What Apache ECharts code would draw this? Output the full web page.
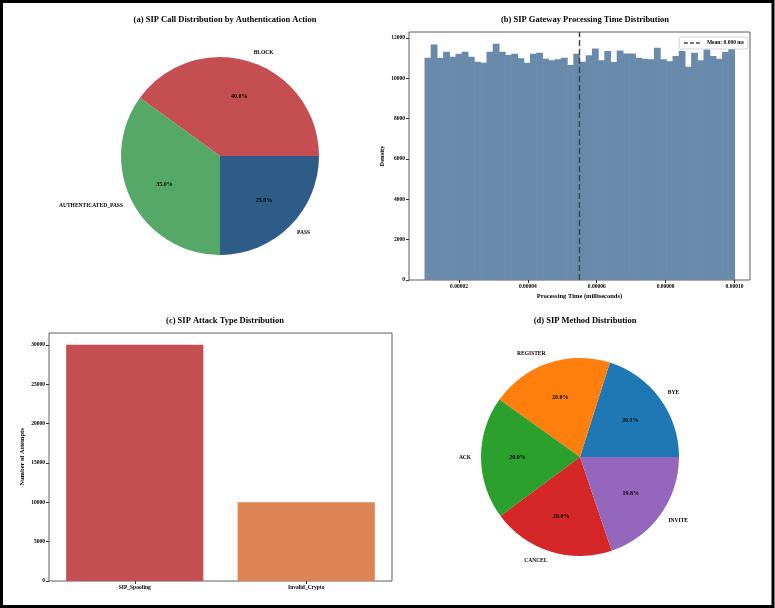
<!DOCTYPE html>
<html>
<head>
<meta charset="utf-8">
<script src="https://cdn.jsdelivr.net/npm/echarts@6/dist/echarts.min.js"></script>
<style>
  html, body { margin: 0; padding: 0; background: #fff; }
  #main { width: 775px; height: 608px; }
</style>
</head>
<body>
<div id="main"></div>
<script>
// (a) authentication action shares (%)
const authLabels = ["BLOCK", "AUTHENTICATED_PASS", "PASS"];
const authShares = [40.0, 35.0, 25.0];
const authColors = ["#c44e52", "#55a868", "#2f5b88"];

// (b) processing time histogram, 50 bins between histStart and histEnd (ms)
const histStart = 0.00001;
const histEnd = 0.0001;
const histDensity = [
  11010, 11670, 11010, 11310, 11060, 11210, 11310, 11060, 10810, 10760,
  11310, 11700, 11310, 11140, 11210, 10980, 10760, 11210, 11260, 10960,
  10880, 10930, 11010, 10650, 11210, 10810, 11130, 11470, 10880, 11340,
  10800, 11370, 11220, 11220, 11010, 10960, 10930, 11510, 10930, 10840,
  11090, 11340, 10560, 11260, 10880, 11420, 11090, 10960, 11290, 11460,
];
const meanTime = 0.000055;
const timeTicks = [0.00002, 0.00004, 0.00006, 0.00008, 0.0001];
const densityTicks = [0, 2000, 4000, 6000, 8000, 10000, 12000];

// (c) attack types
const attackTypes = ["SIP_Spoofing", "Invalid_Crypto"];
const attackCounts = [30000, 10000];
const attackColors = ["#c44e52", "#dd8452"];
const attackTicks = [0, 5000, 10000, 15000, 20000, 25000, 30000];

// (d) SIP methods shares (%)
const methodLabels = ["BYE", "REGISTER", "ACK", "CANCEL", "INVITE"];
const methodShares = [20.1, 20.0, 20.0, 20.0, 19.8];
const methodColors = ["#1f77b4", "#ff7f0e", "#2ca02c", "#d62728", "#9467bd"];

const FONT = "Liberation Serif";
const tickText = { fontFamily: FONT, fontSize: 5.5, fontWeight: "bold", color: "#000" };
const nameText = { fontFamily: FONT, fontSize: 6.5, fontWeight: "bold", color: "#000" };
const titleText = { fontFamily: FONT, fontSize: 8.5, fontWeight: "bold", color: "#000" };
const meanLine = { color: "#444", width: 1.5, type: [6, 3] };

const chart = echarts.init(document.getElementById("main"), null, { renderer: "canvas" });

function pieSeries(center, labels, values, colors) {
  const r = 99;
  return [
    {
      type: "pie",
      center: center,
      radius: r,
      startAngle: 0,
      clockwise: false,
      avoidLabelOverlap: false,
      silent: true,
      emphasis: { disabled: true },
      data: labels.map((n, i) => ({ name: n, value: values[i], itemStyle: { color: colors[i] } })),
      label: {
        position: "outside",
        formatter: "{b}",
        distanceToLabelLine: 0,
        ...tickText,
      },
      labelLine: { show: false, length: r * 0.1, length2: 0 },
    },
    {
      // percentages sit at 0.6 r: midpoint of a 1.2 r transparent ring
      type: "pie",
      center: center,
      radius: [0, r * 1.2],
      startAngle: 0,
      clockwise: false,
      silent: true,
      z: 5,
      emphasis: { disabled: true },
      data: labels.map((n, i) => ({ name: n, value: values[i], itemStyle: { color: "rgba(0,0,0,0)" } })),
      label: {
        position: "inside",
        formatter: (p) => p.value.toFixed(1) + "%",
        fontFamily: FONT,
        fontSize: 6,
        fontWeight: "bold",
        color: "#000",
      },
      labelLine: { show: false },
    },
  ];
}

const binW = (histEnd - histStart) / histDensity.length;
const histData = histDensity.map((d, i) => [histStart + i * binW, histStart + (i + 1) * binW, d]);
const histYMax = Math.max(...histDensity) * 1.05;
const xPad = (histEnd - histStart) * 0.05;
const meanName = "Mean: " + meanTime.toFixed(3) + " ms";
const plain = (v) => String(v);

const option = {
  animation: false,
  backgroundColor: "#fff",
  graphic: [
    {
      type: "rect",
      silent: true,
      shape: { x: 1.5, y: 1.5, width: 771.5, height: 605 },
      style: { fill: "none", stroke: "#000", lineWidth: 3 },
    },
  ],
  title: [
    { text: "(a) SIP Call Distribution by Authentication Action", left: 220, top: 10, textAlign: "center", textStyle: titleText },
    { text: "(b) SIP Gateway Processing Time Distribution", left: 580, top: 10, textAlign: "center", textStyle: titleText },
    { text: "(c) SIP Attack Type Distribution", left: 220, top: 311, textAlign: "center", textStyle: titleText },
    { text: "(d) SIP Method Distribution", left: 580, top: 311, textAlign: "center", textStyle: titleText },
  ],
  legend: {
    data: [meanName],
    right: 27,
    top: 37,
    itemWidth: 18,
    itemHeight: 6,
    padding: [3, 4],
    borderColor: "#ccc",
    borderWidth: 0.8,
    borderRadius: 2,
    backgroundColor: "#fff",
    itemStyle: { opacity: 0 },
    lineStyle: { color: "#444", width: 1.5, type: [4, 2] },
    textStyle: { fontFamily: FONT, fontSize: 5.5, fontWeight: "bold", color: "#000" },
  },
  grid: [
    { left: 409, right: 25, top: 32, bottom: 328, show: true, borderColor: "#333", borderWidth: 0.8 },
    { left: 49, right: 383, top: 333, bottom: 27, show: true, borderColor: "#333", borderWidth: 0.8 },
  ],
  xAxis: [
    {
      type: "value",
      gridIndex: 0,
      min: histStart - xPad,
      max: histEnd + xPad,
      name: "Processing Time (milliseconds)",
      nameLocation: "middle",
      nameGap: 13,
      nameTextStyle: nameText,
      axisLine: { show: false },
      splitLine: { show: false },
      axisTick: { show: true, length: 3, customValues: timeTicks, lineStyle: { color: "#333" } },
      axisLabel: { customValues: timeTicks, formatter: (v) => v.toFixed(5), margin: 4, ...tickText },
    },
    {
      type: "category",
      gridIndex: 1,
      data: attackTypes,
      axisLine: { show: false },
      axisTick: { show: true, alignWithLabel: true, length: 3, lineStyle: { color: "#333" } },
      axisLabel: { margin: 4, ...tickText },
    },
  ],
  yAxis: [
    {
      type: "value",
      gridIndex: 0,
      min: 0,
      max: histYMax,
      name: "Density",
      nameLocation: "middle",
      nameGap: 23,
      nameTextStyle: nameText,
      axisLine: { show: false },
      splitLine: { show: false },
      axisTick: { show: true, length: 3, customValues: densityTicks, lineStyle: { color: "#333" } },
      axisLabel: { customValues: densityTicks, formatter: plain, margin: 4, ...tickText },
    },
    {
      type: "value",
      gridIndex: 1,
      min: 0,
      max: Math.max(...attackCounts) * 1.05,
      name: "Number of Attempts",
      nameLocation: "middle",
      nameGap: 23,
      nameTextStyle: nameText,
      axisLine: { show: false },
      splitLine: { show: false },
      axisTick: { show: true, length: 3, customValues: attackTicks, lineStyle: { color: "#333" } },
      axisLabel: { customValues: attackTicks, formatter: plain, margin: 4, ...tickText },
    },
  ],
  series: [
    {
      type: "custom",
      xAxisIndex: 0,
      yAxisIndex: 0,
      silent: true,
      data: histData,
      encode: { x: [0, 1], y: 2 },
      renderItem: (params, api) => {
        const a = api.coord([api.value(0), api.value(2)]);
        const b = api.coord([api.value(1), 0]);
        return {
          type: "rect",
          shape: { x: a[0], y: a[1], width: b[0] - a[0] + 0.6, height: b[1] - a[1] },
          style: { fill: "#6a8aab" },
        };
      },
    },
    {
      type: "line",
      name: meanName,
      xAxisIndex: 0,
      yAxisIndex: 0,
      silent: true,
      symbol: "none",
      z: 4,
      data: [[meanTime, 0], [meanTime, histYMax]],
      itemStyle: { color: "#444", opacity: 0 },
      lineStyle: meanLine,
    },
    {
      type: "bar",
      xAxisIndex: 1,
      yAxisIndex: 1,
      silent: true,
      barWidth: "80%",
      data: attackCounts.map((v, i) => ({ value: v, itemStyle: { color: attackColors[i] } })),
    },
    ...pieSeries([220, 156], authLabels, authShares, authColors),
    ...pieSeries([580, 457], methodLabels, methodShares, methodColors),
  ],
};

chart.setOption(option);
</script>
</body>
</html>
